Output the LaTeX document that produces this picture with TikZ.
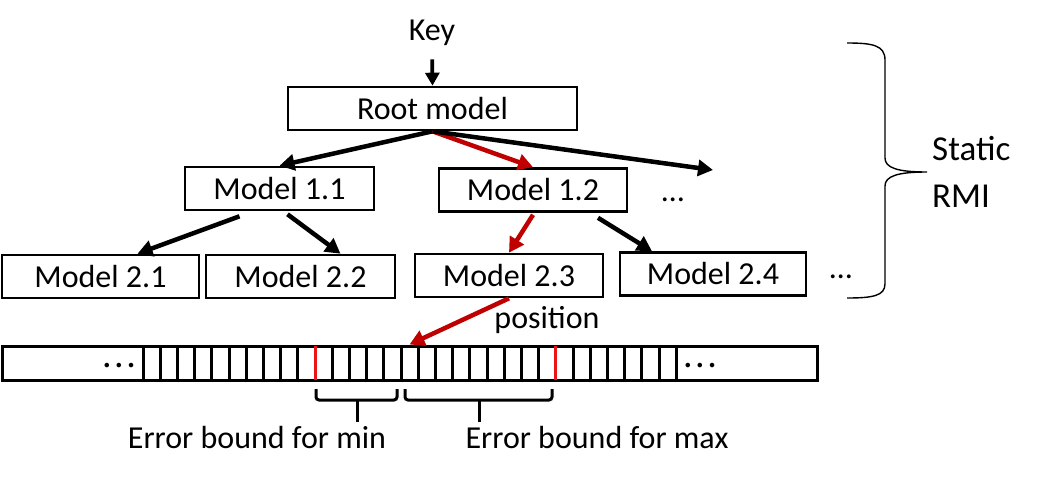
\documentclass[tikz,border=0pt]{standalone}
\usepackage{fontspec}
\setmainfont{Carlito}
\usepackage{xcolor}
\usetikzlibrary{arrows.meta,positioning}
\definecolor{pathred}{RGB}{192,0,0}
\definecolor{boundred}{RGB}{235,20,20}

\begin{document}
\begin{tikzpicture}[x=1pt,y=-1pt,
        every node/.style={font=\fontsize{32}{38}\selectfont, inner sep=0pt},
        model/.style={draw, line width=2.6pt, minimum height=43pt},
        link/.style={line width=4.5pt, -{Triangle[length=15pt,width=16pt]}},
        hot/.style={link, pathred},
        cell/.style={line width=3pt}]
    \useasboundingbox (0,0) rectangle (1047,480);
    \node[anchor=base] (key) at (432,40) {Key};
    \node[model, minimum width=289pt] (root) at (432.5,108.5) {Root model};
    \node[model, minimum width=189pt] (m11) at (279.5,188.5) {Model 1.1};
    \node[model, minimum width=188pt] (m12) at (533,190) {Model 1.2};
    \node (dots1) at (673,200) {…};
    \node[model, minimum width=197pt] (m21) at (100.5,276.5) {Model 2.1};
    \node[model, minimum width=189pt] (m22) at (300.5,276.5) {Model 2.2};
    \node[model, minimum width=188pt] (m23) at (509,275.5) {Model 2.3};
    \node[model, minimum width=186pt] (m24) at (713,274) {Model 2.4};
    \node (dots2) at (841,277) {…};
    \coordinate (more1) at (713,170);
    \draw[link, line width=3.8pt, -{Triangle[length=13pt,width=14pt]}, shorten <=14pt] (key.south) -- (root.north);
    \draw[link] (root.south) -- (m11.north);
    \draw[hot] (root.south) -- (m12.north);
    \draw[link] (root.south) -- (more1);
    \draw[link] ([shift={(-40,5)}]m11.south) -- ([xshift=37pt]m21.north);
    \draw[link] ([shift={(8,3)}]m11.south) -- ([xshift=40pt]m22.north);
    \draw[hot] ([shift={(0,2)}]m12.south) -- (m23.north);
    \draw[link] ([shift={(65,5)}]m12.south) -- ([xshift=-61pt]m24.north);
    % sorted array
    \node[draw, cell, minimum width=815pt, minimum height=34pt] (arr) at (409.5,363) {};
    \foreach \i in {0,...,31}
        \draw[cell] ({143+17.2*\i},346) -- ({143+17.2*\i},380);
    \foreach \i in {10,24}
        \draw[cell, boundred] ({143+17.2*\i},346) -- ({143+17.2*\i},380);
    \node (ldots) at (119,369) {·\hspace{4pt}·\hspace{4pt}·};
    \node (rdots) at (700,369) {·\hspace{4pt}·\hspace{4pt}·};
    \draw[hot] (m23.south) -- (arr.north);
    \node[anchor=base] (pos) at (547,328) {position};
    % error bounds
    \draw[cell, rounded corners=3pt] (316,389) -- (316,400) -- (397,400) -- (397,389);
    \draw[cell] (357,400) -- (357,422);
    \draw[cell, rounded corners=3pt] (405,389) -- (405,400) -- (552,400) -- (552,389);
    \draw[cell] (479,400) -- (479,422);
    \node[anchor=base] (minlbl) at (257,448) {Error bound for min};
    \node[anchor=base] (maxlbl) at (597,448) {Error bound for max};
    % static rmi brace
    \draw[line width=1.4pt] (847,43) .. controls (872,43) and (885,45) .. (885,60) -- (885,158)
        .. controls (885,168) and (898,172) .. (927,172)
        .. controls (898,172) and (885,176) .. (885,186) -- (885,284)
        .. controls (885,296) and (872,298) .. (847,298);
    \node[font=\fontsize{35}{42}\selectfont, anchor=base west] (static) at (932,160) {Static};
    \node[font=\fontsize{35}{42}\selectfont, anchor=base west] (rmi) at (932,207) {RMI};
\end{tikzpicture}
\end{document}
